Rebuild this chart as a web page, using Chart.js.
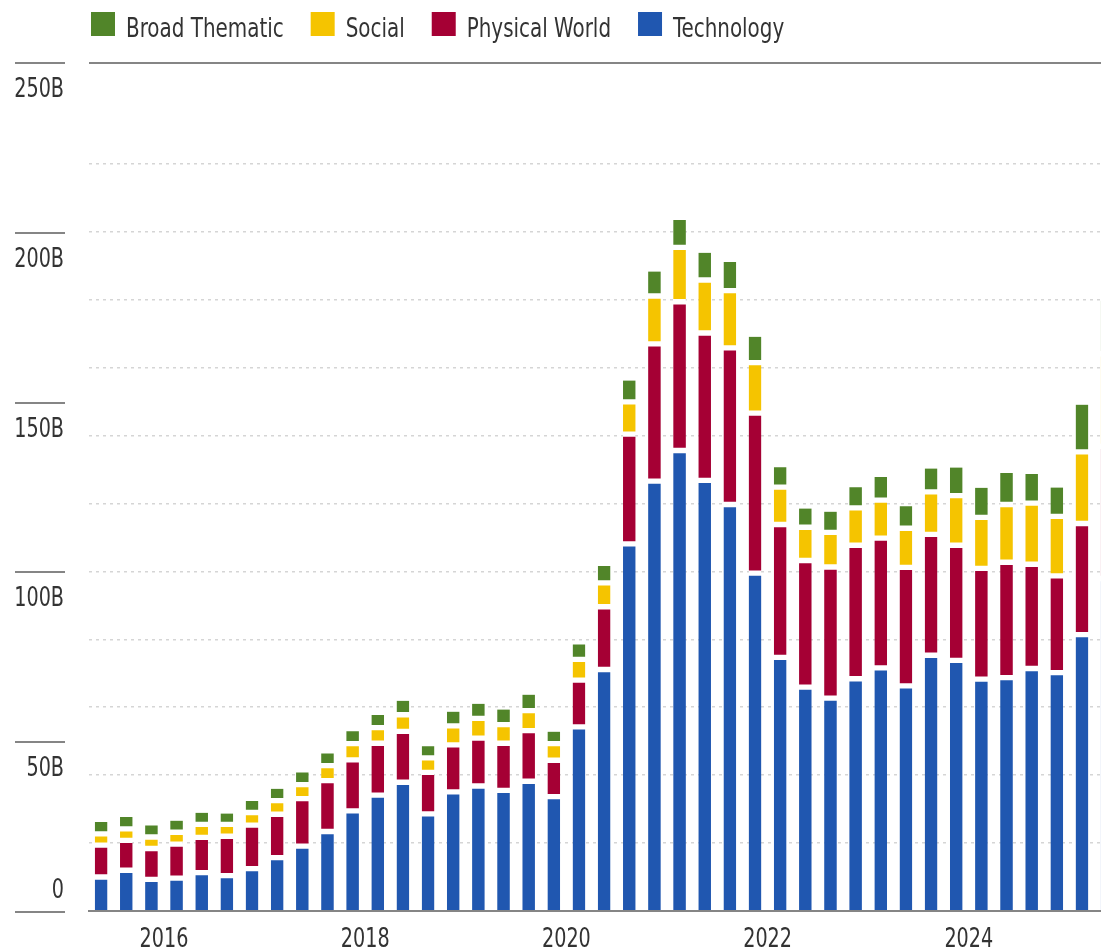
<!DOCTYPE html>
<html>
<head>
<meta charset="utf-8">
<script src="https://cdn.jsdelivr.net/npm/chart.js@4.4.1/dist/chart.umd.min.js"></script>
<style>
  html, body { margin: 0; padding: 0; background: #fff; }
  #wrap { width: 1101px; height: 949px; }
</style>
</head>
<body>
<div id="wrap"><canvas id="flows" width="1101" height="949"></canvas></div>
<script>
// quarterly assets, billions
const QUARTERS = [
  '2015 Q2', '2015 Q3', '2015 Q4',
  '2016 Q1', '2016 Q2', '2016 Q3', '2016 Q4',
  '2017 Q1', '2017 Q2', '2017 Q3', '2017 Q4',
  '2018 Q1', '2018 Q2', '2018 Q3', '2018 Q4',
  '2019 Q1', '2019 Q2', '2019 Q3', '2019 Q4',
  '2020 Q1', '2020 Q2', '2020 Q3', '2020 Q4',
  '2021 Q1', '2021 Q2', '2021 Q3', '2021 Q4',
  '2022 Q1', '2022 Q2', '2022 Q3', '2022 Q4',
  '2023 Q1', '2023 Q2', '2023 Q3', '2023 Q4',
  '2024 Q1', '2024 Q2', '2024 Q3', '2024 Q4',
  '2025 Q1', '2025 Q2'
];
const TECHNOLOGY = [10.0, 12.0, 9.3, 9.7, 11.3, 10.4, 12.5, 15.7, 19.1, 23.4, 29.5, 34.1, 37.9, 28.6, 35.1, 36.8, 35.5, 38.2, 33.7,
  54.2, 71.1, 108.1, 126.6, 135.6, 126.8, 119.7, 99.5, 74.7, 65.9, 62.7, 68.4, 71.6, 66.3, 75.3, 73.8, 68.3, 68.7, 71.4, 70.2, 81.4, 97.9];
const PHYSICAL = [9.4, 8.8, 9.1, 10.0, 10.4, 11.6, 12.8, 12.8, 14.0, 15.0, 15.0, 15.3, 15.0, 12.2, 13.8, 14.1, 13.9, 14.9, 10.7,
  13.8, 18.5, 32.3, 40.4, 43.8, 43.4, 46.1, 47.1, 39.1, 37.3, 38.6, 39.3, 38.2, 34.9, 35.6, 33.9, 32.6, 34.0, 30.7, 28.5, 32.7, 38.9];
const SOCIAL = [3.3, 3.4, 3.4, 3.5, 3.8, 3.5, 3.7, 4.0, 4.1, 4.4, 4.8, 4.6, 4.9, 4.3, 5.6, 5.8, 5.5, 5.9, 4.9,
  6.1, 7.0, 9.5, 14.1, 16.0, 15.6, 16.9, 14.9, 11.0, 9.8, 10.2, 11.0, 11.2, 11.5, 12.5, 14.6, 15.0, 17.0, 18.0, 17.5, 21.1, 27.3];
const BROAD = [3.5, 3.5, 3.4, 3.4, 3.4, 3.2, 3.4, 3.5, 3.6, 3.6, 3.6, 3.7, 4.1, 3.4, 4.2, 4.3, 4.4, 4.7, 3.5,
  4.4, 5.0, 6.3, 7.2, 8.1, 8.0, 8.4, 7.6, 5.9, 5.5, 6.1, 6.1, 6.8, 6.5, 6.9, 8.3, 8.7, 9.3, 8.6, 8.5, 13.9, 15.6];

const YEAR_TICKS = [2016, 2018, 2020, 2022, 2024];
const Y_LABELS = [0, 50, 100, 150, 200, 250];

const FONT = "'DejaVu Sans Condensed', 'Liberation Sans', sans-serif";
const TEXT = '#333333';
const RULE = '#858585';
const SQUEEZE = 0.82; // no narrow face installed, so condense the text a bit

// bars sit in the middle of their quarter
const quarterPos = (q) => {
  const [yr, n] = q.split(' Q');
  return Number(yr) + (Number(n) - 0.5) / 4;
};
const series = (vals) => vals.map((v, i) => ({ x: quarterPos(QUARTERS[i]), y: v }));

const GAP = 3;
function makeSet(label, vals, color, bw) {
  return {
    label,
    data: series(vals),
    backgroundColor: color,
    borderColor: '#ffffff',
    borderWidth: bw,
    borderSkipped: false,
    barThickness: 12.5
  };
}

function narrowText(ctx, str, x, y, align) {
  ctx.save();
  ctx.translate(x, y);
  ctx.scale(SQUEEZE, 1);
  ctx.textAlign = align;
  ctx.textBaseline = 'alphabetic';
  ctx.fillText(str, 0, 0);
  ctx.restore();
  return ctx.measureText(str).width * SQUEEZE;
}

// legend row across the top, drawn in reverse stacking order
const topLegend = {
  id: 'topLegend',
  afterDraw(chart) {
    const ctx = chart.ctx;
    ctx.save();
    ctx.font = '27px ' + FONT;
    let x = 91;
    [...chart.data.datasets].reverse().forEach(ds => {
      ctx.fillStyle = ds.backgroundColor;
      ctx.fillRect(x, 12, 24, 24);
      ctx.fillStyle = TEXT;
      const w = narrowText(ctx, ds.label, x + 35, 37, 'left');
      x += 35 + w + 27;
    });
    ctx.restore();
  }
};

// value labels under short rules left of the plot, year labels under the baseline
const axisText = {
  id: 'axisText',
  afterDraw(chart) {
    const { ctx, chartArea, scales: { x, y } } = chart;
    ctx.save();
    ctx.strokeStyle = RULE;
    ctx.lineWidth = 2;
    ctx.font = '26px ' + FONT;
    ctx.fillStyle = TEXT;
    Y_LABELS.forEach(v => {
      const py = Math.round(y.getPixelForValue(v)) + 1;
      ctx.beginPath();
      ctx.moveTo(15, py);
      ctx.lineTo(65, py);
      ctx.stroke();
      narrowText(ctx, v === 0 ? '0' : v + 'B', 64, v === 0 ? py - 14 : py + 34, 'right');
    });
    const top = Math.round(y.getPixelForValue(250)) + 1;
    ctx.beginPath();
    ctx.moveTo(chartArea.left, top);
    ctx.lineTo(chartArea.right, top);
    ctx.stroke();
    YEAR_TICKS.forEach(yr => {
      narrowText(ctx, String(yr), x.getPixelForValue(yr), chartArea.bottom + 36, 'center');
    });
    ctx.restore();
  }
};

Chart.defaults.font.family = FONT;

new Chart(document.getElementById('flows'), {
  type: 'bar',
  data: {
    datasets: [
      makeSet('Technology', TECHNOLOGY, '#2057b0', { top: GAP, bottom: 0, left: 0, right: 0 }),
      makeSet('Physical World', PHYSICAL, '#a50034', { top: GAP, bottom: GAP, left: 0, right: 0 }),
      makeSet('Social', SOCIAL, '#f5c400', { top: GAP, bottom: GAP, left: 0, right: 0 }),
      makeSet('Broad Thematic', BROAD, '#518529', { top: 0, bottom: GAP, left: 0, right: 0 })
    ]
  },
  options: {
    responsive: false,
    animation: false,
    layout: { padding: { left: 89, top: 62, right: 0, bottom: 0 } },
    plugins: {
      legend: { display: false },
      tooltip: { enabled: false }
    },
    scales: {
      x: {
        type: 'linear',
        stacked: true,
        offset: false,
        min: 2015.2545,
        max: 2025.3141,
        afterBuildTicks: (scale) => { scale.ticks = YEAR_TICKS.map(v => ({ value: v })); },
        afterFit: (scale) => { scale.height = 38; },
        grid: { display: false, drawTicks: false },
        border: { display: true, color: RULE, width: 2, z: 1 },
        ticks: { display: false }
      },
      y: {
        stacked: true,
        min: 0,
        max: 250,
        afterFit: (scale) => { scale.width = 0; },
        ticks: { display: false, stepSize: 20 },
        grid: {
          drawTicks: false,
          lineWidth: 1.5,
          color: (c) => (c.tick && c.tick.value > 0 && c.tick.value <= 220) ? '#d5d5d5' : 'rgba(0,0,0,0)'
        },
        border: { display: false, dash: [3, 4] }
      }
    }
  },
  plugins: [topLegend, axisText]
});
</script>
</body>
</html>
